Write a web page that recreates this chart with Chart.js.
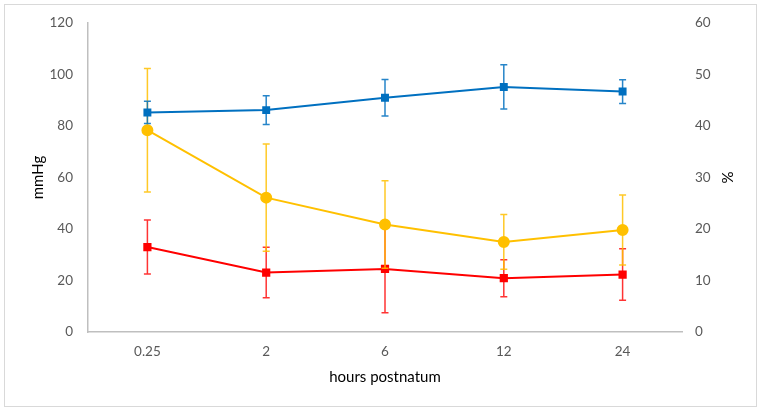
<!DOCTYPE html>
<html>
<head>
<meta charset="utf-8">
<script src="https://cdn.jsdelivr.net/npm/chart.js@4.4.1/dist/chart.umd.min.js"></script>
<style>
  html, body { margin: 0; padding: 0; background: #fff; }
  #wrap { width: 761px; height: 411px; }
</style>
</head>
<body>
<div id="wrap"><canvas id="grafico" width="761" height="411"></canvas></div>
<script>
// datos
const categorias = ['0.25', '2', '6', '12', '24'];

const presionAzul = [85.3, 86.2, 91.0, 95.2, 93.4];
const errorAzul   = [4.3, 5.6, 7.1, 8.6, 4.6];

const porcentajeAmarillo = [39.2, 26.1, 20.9, 17.5, 19.8];
const errorAmarillo      = [12.0, 10.4, 8.5, 5.3, 6.8];

const presionRoja = [33.0, 23.1, 24.5, 20.9, 22.3];
const errorRojo   = [10.5, 9.8, 17.0, 7.2, 10.0];

const fuente = "Lato, 'Open Sans', sans-serif";
const grisTexto = '#595959';

// marco exterior del grafico
const marco = {
    id: 'marco',
    beforeDraw(chart) {
        const ctx = chart.ctx;
        ctx.save();
        ctx.fillStyle = '#fff';
        ctx.fillRect(0, 0, chart.width, chart.height);
        ctx.strokeStyle = '#d9d9d9';
        ctx.lineWidth = 1;
        ctx.strokeRect(4.5, 4.5, chart.width - 9, chart.height - 9);
        ctx.restore();
    }
};

// barras de error dibujadas con las escalas del grafico
const barrasError = {
    id: 'barrasError',
    afterDatasetDraw(chart, args) {
        const ds = chart.data.datasets[args.index];
        if (!ds.errores) return;
        const meta = args.meta;
        const escalaY = chart.scales[ds.yAxisID];
        const ctx = chart.ctx;
        ctx.save();
        ctx.strokeStyle = ds.colorError;
        ctx.lineWidth = 1.5;
        meta.data.forEach((pt, i) => {
            const v = ds.data[i];
            const e = ds.errores[i];
            const yArriba = escalaY.getPixelForValue(v + e);
            const yAbajo = escalaY.getPixelForValue(v - e);
            ctx.beginPath();
            ctx.moveTo(pt.x, yArriba);
            ctx.lineTo(pt.x, yAbajo);
            ctx.moveTo(pt.x - 3.5, yArriba);
            ctx.lineTo(pt.x + 3.5, yArriba);
            ctx.moveTo(pt.x - 3.5, yAbajo);
            ctx.lineTo(pt.x + 3.5, yAbajo);
            ctx.stroke();
        });
        ctx.restore();
    }
};

new Chart(document.getElementById('grafico'), {
    type: 'line',
    data: {
        labels: categorias,
        datasets: [
            {
                label: 'azul',
                data: presionAzul,
                errores: errorAzul,
                colorError: 'rgba(0,112,192,0.85)',
                yAxisID: 'y',
                borderColor: '#0070c0',
                backgroundColor: '#0070c0',
                borderWidth: 2,
                pointStyle: 'rect',
                pointRadius: 4.2,
                tension: 0
            },
            {
                label: 'amarillo',
                data: porcentajeAmarillo,
                errores: errorAmarillo,
                colorError: 'rgba(255,192,0,0.85)',
                yAxisID: 'y2',
                borderColor: '#ffc000',
                backgroundColor: '#ffc000',
                borderWidth: 2,
                pointStyle: 'circle',
                pointRadius: 5,
                tension: 0
            },
            {
                label: 'rojo',
                data: presionRoja,
                errores: errorRojo,
                colorError: 'rgba(255,0,0,0.8)',
                yAxisID: 'y',
                borderColor: '#ff0000',
                backgroundColor: '#ff0000',
                borderWidth: 2,
                pointStyle: 'rect',
                pointRadius: 4.4,
                tension: 0
            }
        ]
    },
    options: {
        responsive: false,
        animation: false,
        layout: { padding: { top: 22, left: 0, right: 0, bottom: 0 } },
        plugins: {
            legend: { display: false },
            tooltip: { enabled: false }
        },
        scales: {
            x: {
                offset: true,
                grid: { display: false, drawTicks: false },
                border: { display: true, color: '#bfbfbf', width: 1.5 },
                ticks: { color: grisTexto, padding: 12, font: { family: fuente, size: 13.5 } },
                title: {
                    display: true, text: 'hours postnatum', color: '#000',
                    font: { family: fuente, size: 15 }, padding: { top: 0, bottom: 25 }
                },
                afterFit(scale) { scale.height = 79; }
            },
            y: {
                position: 'left',
                min: 0, max: 120,
                grid: { display: false, drawTicks: false },
                border: { display: true, color: '#bfbfbf', width: 1.5 },
                ticks: { stepSize: 20, color: grisTexto, padding: 15, font: { family: fuente, size: 13.5 } },
                title: {
                    display: true, text: 'mmHg', color: '#000',
                    font: { family: fuente, size: 15 }, padding: { top: 29, bottom: 0 }
                },
                afterFit(scale) { scale.width = 88; }
            },
            y2: {
                position: 'right',
                min: 0, max: 60,
                grid: { display: false, drawTicks: false },
                border: { display: false },
                ticks: { stepSize: 10, color: grisTexto, padding: 13, font: { family: fuente, size: 13.5 } },
                title: {
                    display: true, text: '%', color: '#000',
                    font: { family: fuente, size: 15 }, padding: { top: 25, bottom: 0 }
                },
                afterFit(scale) { scale.width = 79; }
            }
        }
    },
    plugins: [marco, barrasError]
});
</script>
</body>
</html>
